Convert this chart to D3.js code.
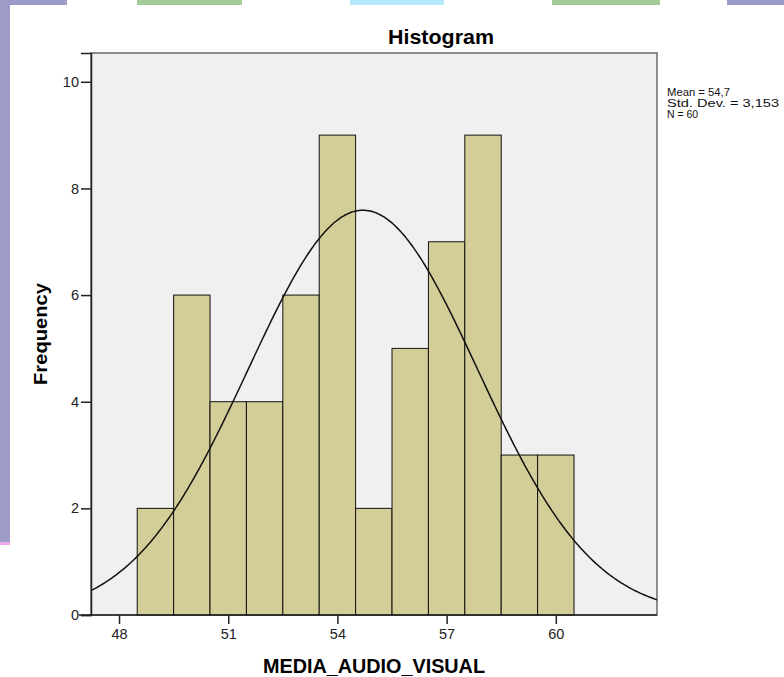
<!DOCTYPE html>
<html>
<head>
<meta charset="utf-8">
<script src="https://cdn.jsdelivr.net/npm/d3@7"></script>
<style>
  html, body { margin: 0; padding: 0; background: #fff; }
  svg { display: block; font-family: "Liberation Sans", Arial, sans-serif; }
</style>
</head>
<body>
<svg id="chart" width="784" height="677"></svg>
<script>
  /* ---- data ---- */
  const binStarts = [48.5, 49.5, 50.5, 51.5, 52.5, 53.5, 54.5, 55.5, 56.5, 57.5, 58.5, 59.5];
  const counts    = [2, 6, 4, 4, 6, 9, 2, 5, 7, 9, 3, 3];
  const xTicks    = [48, 51, 54, 57, 60];
  const yTicks    = [0, 2, 4, 6, 8, 10];
  const statLines = ["Mean = 54,7", "Std. Dev. = 3,153", "N = 60"];
  const statWidth = [63, 112, 31];
  const mean = 54.7, sd = 3.153, n = 60, binW = 1;

  const svg = d3.select("#chart");
  const L = 91, R = 657, T = 53, B = 615;

  /* ── background decoration (slide frame behind the chart) ── */
  const deco = [
    { x: 0,   w: 67,  c: "#9d9cc8" },
    { x: 137, w: 105, c: "#a1cb97" },
    { x: 350, w: 94,  c: "#b4e8fb" },
    { x: 552, w: 108, c: "#a1cb97" },
    { x: 727, w: 57,  c: "#9d9cc8" }
  ];
  svg.selectAll("rect.deco").data(deco).join("rect").attr("class", "deco")
    .attr("x", d => d.x).attr("y", 0).attr("width", d => d.w).attr("height", 5)
    .attr("fill", d => d.c);
  svg.append("rect").attr("x", 0).attr("y", 0).attr("width", 10).attr("height", 542).attr("fill", "#9d9cc8");
  svg.append("rect").attr("x", 0).attr("y", 542).attr("width", 10).attr("height", 3).attr("fill", "#f2a6f0");

  /* ── scales ── */
  const x = d3.scaleLinear().domain([47.23, 62.78]).range([L, R]);
  const y = d3.scaleLinear().domain([0, 10.54]).range([B, T]);

  /* plot panel */
  svg.append("rect").attr("x", L).attr("y", T).attr("width", R - L).attr("height", B - T)
    .attr("fill", "#f0f0f0").attr("stroke", "#6a6a6a").attr("stroke-width", 1.5);

  const clip = svg.append("defs").append("clipPath").attr("id", "plot-clip");
  clip.append("rect").attr("x", L).attr("y", T).attr("width", R - L).attr("height", B - T);

  /* bars */
  svg.append("g").selectAll("rect").data(counts).join("rect")
    .attr("x", (d, i) => x(binStarts[i]))
    .attr("width", (d, i) => x(binStarts[i] + binW) - x(binStarts[i]))
    .attr("y", d => y(d))
    .attr("height", d => y(0) - y(d))
    .attr("fill", "#d3ce97").attr("stroke", "#111").attr("stroke-width", 1);

  /* normal curve */
  const curvePts = d3.range(0, 301).map(i => {
    const v = x.domain()[0] + (x.domain()[1] - x.domain()[0]) * i / 300;
    const z = (v - mean) / sd;
    return [v, n * binW * Math.exp(-0.5 * z * z) / (sd * Math.sqrt(2 * Math.PI))];
  });
  svg.append("path").datum(curvePts)
    .attr("clip-path", "url(#plot-clip)")
    .attr("fill", "none").attr("stroke", "#111").attr("stroke-width", 1.5)
    .attr("d", d3.line().x(d => x(d[0])).y(d => y(d[1])).curve(d3.curveBasis));

  /* axes */
  const yAxis = svg.append("g").attr("transform", `translate(${L},0)`)
    .call(d3.axisLeft(y).tickValues(yTicks).tickSize(10).tickPadding(2).tickFormat(d3.format("d")));
  const xAxis = svg.append("g").attr("transform", `translate(0,${B})`)
    .call(d3.axisBottom(x).tickValues(xTicks).tickSize(9).tickPadding(5).tickFormat(d3.format("d")));
  [yAxis, xAxis].forEach(g => {
    g.attr("font-size", 14.5).attr("font-family", "Liberation Sans, Arial, sans-serif");
    g.select(".domain").attr("stroke", "#222").attr("stroke-width", 1.5);
    g.selectAll(".tick line").attr("stroke", "#222").attr("stroke-width", 1.5);
    g.selectAll(".tick text").attr("fill", "#222");
  });
  xAxis.select(".domain").attr("d", `M${L - 12},0H${R}`);

  /* titles */
  svg.append("text").attr("x", 441).attr("y", 44).attr("text-anchor", "middle")
    .attr("font-size", 21).attr("font-weight", "bold").attr("fill", "#000")
    .attr("textLength", 106).attr("lengthAdjust", "spacingAndGlyphs").text("Histogram");
  svg.append("text").attr("x", 374).attr("y", 673).attr("text-anchor", "middle")
    .attr("font-size", 20).attr("font-weight", "bold").attr("fill", "#000")
    .attr("textLength", 222).attr("lengthAdjust", "spacingAndGlyphs").text("MEDIA_AUDIO_VISUAL");
  svg.append("text").attr("transform", "translate(47,334) rotate(-90)").attr("text-anchor", "middle")
    .attr("font-size", 19).attr("font-weight", "bold").attr("fill", "#000")
    .attr("textLength", 102).attr("lengthAdjust", "spacingAndGlyphs").text("Frequency");

  /* stats box text */
  svg.append("g").selectAll("text").data(statLines).join("text")
    .attr("x", 667).attr("y", (d, i) => 96 + i * 11)
    .attr("font-size", 11.5).attr("fill", "#111")
    .attr("textLength", (d, i) => statWidth[i]).attr("lengthAdjust", "spacingAndGlyphs")
    .text(d => d);
</script>
</body>
</html>
